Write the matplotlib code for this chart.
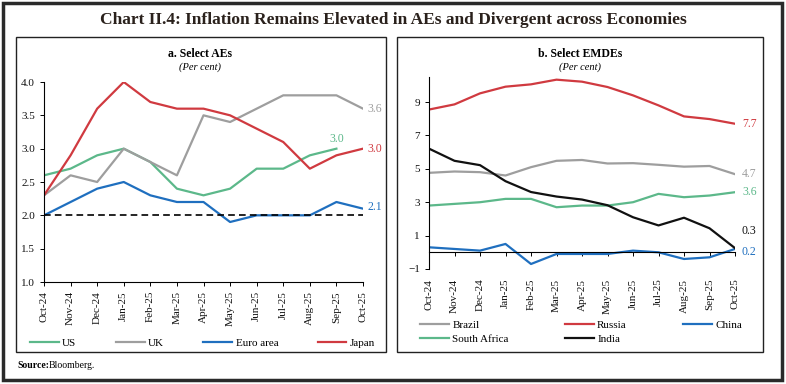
import numpy as np
import matplotlib
matplotlib.use("Agg")
import matplotlib.pyplot as plt
from matplotlib.patches import Rectangle

plt.rcParams['font.family'] = ['Liberation Serif', 'DejaVu Serif']

months = ['Oct-24', 'Nov-24', 'Dec-24', 'Jan-25', 'Feb-25', 'Mar-25', 'Apr-25',
          'May-25', 'Jun-25', 'Jul-25', 'Aug-25', 'Sep-25', 'Oct-25']

# panel a: select AEs
us = [2.6, 2.7, 2.9, 3.0, 2.8, 2.4, 2.3, 2.4, 2.7, 2.7, 2.9, 3.0, np.nan]
uk = [2.3, 2.6, 2.5, 3.0, 2.8, 2.6, 3.5, 3.4, 3.6, 3.8, 3.8, 3.8, 3.6]
euro = [2.0, 2.2, 2.4, 2.5, 2.3, 2.2, 2.2, 1.9, 2.0, 2.0, 2.0, 2.2, 2.1]
japan = [2.3, 2.9, 3.6, 4.0, 3.7, 3.6, 3.6, 3.5, 3.3, 3.1, 2.7, 2.9, 3.0]
target = 2.0

# panel b: select EMDEs
brazil = [4.76, 4.84, 4.8, 4.6, 5.1, 5.48, 5.53, 5.32, 5.34, 5.24, 5.13, 5.17, 4.68]
russia = [8.55, 8.86, 9.52, 9.92, 10.06, 10.34, 10.22, 9.9, 9.4, 8.8, 8.14, 7.98, 7.7]
china = [0.3, 0.2, 0.1, 0.5, -0.7, -0.1, -0.1, -0.1, 0.1, 0.0, -0.4, -0.3, 0.2]
south_africa = [2.8, 2.9, 3.0, 3.2, 3.2, 2.7, 2.8, 2.8, 3.0, 3.5, 3.3, 3.4, 3.6]
india = [6.21, 5.48, 5.22, 4.26, 3.61, 3.34, 3.16, 2.82, 2.1, 1.61, 2.07, 1.44, 0.25]

GREEN = '#5cb88a'
GRAY = '#9e9e9e'
BLUE = '#1f6fbf'
RED = '#d03a40'
BLACK = '#111111'

W, H = 786, 384
fig = plt.figure(figsize=(W / 100, H / 100), dpi=100)


def fx(px):
    return px / W


def fy(py):
    return 1 - py / H


# frames
fig.patches.append(Rectangle((fx(3), fy(380)), fx(779), 377 / H, transform=fig.transFigure,
                             fill=False, lw=2.5, edgecolor='#2a2a2a'))
fig.patches.append(Rectangle((fx(16), fy(352)), fx(370), 315 / H, transform=fig.transFigure,
                             fill=False, lw=1.0, edgecolor='#222222'))
fig.patches.append(Rectangle((fx(397), fy(352)), fx(366), 315 / H, transform=fig.transFigure,
                             fill=False, lw=1.0, edgecolor='#222222'))

fig.text(0.5, fy(20), 'Chart II.4: Inflation Remains Elevated in AEs and Divergent across Economies',
         ha='center', va='center', fontsize=12.5, fontweight='bold', color='#2a211c')
fig.text(fx(17), fy(365), 'Source:', ha='left', va='center', fontsize=7, fontweight='bold')
fig.text(fx(49), fy(365), 'Bloomberg.', ha='left', va='center', fontsize=7)

x = np.arange(len(months))


def style(ax):
    for s in ['top', 'right']:
        ax.spines[s].set_visible(False)
    ax.spines['left'].set_linewidth(0.8)
    ax.spines['bottom'].set_linewidth(0.8)
    ax.set_xticks(x)
    ax.set_xticklabels(months, rotation=90, fontsize=8)
    ax.tick_params(axis='both', direction='out', length=3, width=0.7, labelsize=8,
                   labelcolor='#111111')
    ax.set_xlim(x[0], x[-1])


# ---- panel a
ax1 = fig.add_axes([fx(44), fy(282), fx(319), 200 / H])
ax1.plot(x, us, color=GREEN, lw=1.6, label='US')
ax1.plot(x, uk, color=GRAY, lw=1.6, label='UK')
ax1.plot(x, euro, color=BLUE, lw=1.6, label='Euro area')
ax1.plot(x, japan, color=RED, lw=1.6, label='Japan')
ax1.axhline(target, color='black', lw=1.2, ls=(0, (4, 2.5)))
ax1.set_ylim(1.0, 4.0)
ax1.set_yticks(np.arange(1.0, 4.01, 0.5))
ax1.set_yticklabels(['%.1f' % v for v in np.arange(1.0, 4.01, 0.5)])
style(ax1)

ax1.annotate('%.1f' % uk[-1], (x[-1], uk[-1]), xytext=(3, 0), textcoords='offset points',
             color=GRAY, fontsize=8.5, va='center', annotation_clip=False)
ax1.annotate('%.1f' % us[-2], (x[-2], us[-2]), xytext=(0, 7), textcoords='offset points',
             color=GREEN, fontsize=8.5, ha='center', va='center', annotation_clip=False)
ax1.annotate('%.1f' % japan[-1], (x[-1], japan[-1]), xytext=(3, 0), textcoords='offset points',
             color=RED, fontsize=8.5, va='center', annotation_clip=False)
ax1.annotate('%.1f' % euro[-1], (x[-1], euro[-1]), xytext=(3, 1), textcoords='offset points',
             color=BLUE, fontsize=8.5, va='center', annotation_clip=False)

fig.text(fx(200), fy(54), 'a. Select AEs', ha='center', va='center', fontsize=8.5, fontweight='bold')
fig.text(fx(200), fy(67), '(Per cent)', ha='center', va='center', fontsize=7.5, style='italic')

h1, l1 = ax1.get_legend_handles_labels()
fig.legend(h1, l1, loc='lower left', bbox_to_anchor=(fx(30), fy(348), fx(345), 12 / H),
           mode='expand', ncol=4, frameon=False, fontsize=8, handlelength=2.6,
           handletextpad=0.3, borderaxespad=0, borderpad=0)

# ---- panel b
ax2 = fig.add_axes([fx(429), fy(269), fx(306), 192 / H])
lb, = ax2.plot(x, brazil, color=GRAY, lw=1.6, label='Brazil')
lr, = ax2.plot(x, russia, color=RED, lw=1.6, label='Russia')
lc, = ax2.plot(x, china, color=BLUE, lw=1.6, label='China')
ls_, = ax2.plot(x, south_africa, color=GREEN, lw=1.6, label='South Africa')
li, = ax2.plot(x, india, color=BLACK, lw=1.6, label='India')
ax2.set_ylim(-1, 10.5)
ax2.set_yticks([-1, 1, 3, 5, 7, 9])
ax2.spines['bottom'].set_position(('data', 0))
style(ax2)
ax2.tick_params(axis='x', pad=16)

ax2.annotate('%.1f' % russia[-1], (x[-1], russia[-1]), xytext=(5, 0), textcoords='offset points',
             color=RED, fontsize=8.5, va='center', annotation_clip=False)
ax2.annotate('%.1f' % brazil[-1], (x[-1], brazil[-1]), xytext=(5, 0), textcoords='offset points',
             color=GRAY, fontsize=8.5, va='center', annotation_clip=False)
ax2.annotate('%.1f' % south_africa[-1], (x[-1], south_africa[-1]), xytext=(5, 0), textcoords='offset points',
             color=GREEN, fontsize=8.5, va='center', annotation_clip=False)
ax2.annotate('%.1f' % abs(india[-1] + 0.05), (x[-1], india[-1]), xytext=(5, 12), textcoords='offset points',
             color=BLACK, fontsize=8.5, va='center', annotation_clip=False)
ax2.annotate('%.1f' % china[-1], (x[-1], china[-1]), xytext=(5, -2), textcoords='offset points',
             color=BLUE, fontsize=8.5, va='center', annotation_clip=False)

fig.text(fx(580), fy(54), 'b. Select EMDEs', ha='center', va='center', fontsize=8.5, fontweight='bold')
fig.text(fx(580), fy(67), '(Per cent)', ha='center', va='center', fontsize=7.5, style='italic')

fig.legend([lb, ls_, lr, li, lc], ['Brazil', 'South Africa', 'Russia', 'India', 'China'],
           loc='lower left', bbox_to_anchor=(fx(420), fy(344), fx(322), 28 / H),
           mode='expand', ncol=3, frameon=False, fontsize=8, handlelength=2.6,
           handletextpad=0.3, borderaxespad=0, borderpad=0, labelspacing=0.35)

fig.savefig('out.png', dpi=100)
